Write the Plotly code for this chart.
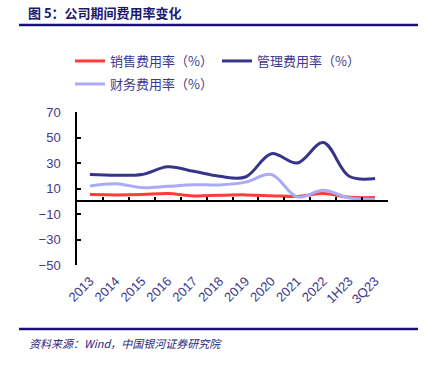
import plotly.graph_objects as go

categories = ["2013", "2014", "2015", "2016", "2017", "2018", "2019", "2020", "2021", "2022", "1H23", "3Q23"]
sales_rate = [5.2, 5.0, 5.2, 6.0, 4.2, 4.7, 5.0, 4.4, 3.7, 6.0, 3.1, 2.9]
admin_rate = [21.0, 20.4, 21.0, 27.0, 23.5, 19.6, 19.0, 37.3, 30.0, 46.0, 19.6, 17.8]
finance_rate = [12.0, 13.8, 10.7, 11.7, 13.0, 12.8, 15.0, 21.0, 3.4, 8.6, 2.6, 1.6]
y_ticks = [-50, -30, -10, 10, 30, 50, 70]

W, H = 425, 368
L, R, T, B = 77, 37, 112, 103
PW, PH = W - L - R, H - T - B

def px_x(x):
    return (x - L) / PW

def px_y(y):
    return (H - B - y) / PH

def cx(x):
    return x / W

def cy(y):
    return (H - y) / H

navy_text = "#3d3a8c"
fig = go.Figure()
series = [
    ("销售费用率（%）", sales_rate, "#ff3c3c", "legend"),
    ("管理费用率（%）", admin_rate, "#37348a", "legend"),
    ("财务费用率（%）", finance_rate, "#aaaaf6", "legend2"),
]
for name, vals, color, lg in series:
    fig.add_trace(go.Scatter(
        x=categories, y=vals, name=name, mode="lines",
        line=dict(color=color, width=3, shape="spline", smoothing=1.0),
        legend=lg,
    ))
# invisible trace to carry the zero-crossing axis
fig.add_trace(go.Scatter(x=categories, y=sales_rate, xaxis="x2", mode="lines",
                         line=dict(width=0), opacity=0, showlegend=False, hoverinfo="skip"))

fig.update_layout(
    width=W, height=H,
    margin=dict(l=L, r=R, t=T, b=B, autoexpand=False),
    paper_bgcolor="white", plot_bgcolor="white",
    font=dict(family="Noto Sans CJK SC, Liberation Sans, sans-serif", color=navy_text),
    xaxis=dict(
        type="category", categoryorder="array", categoryarray=categories,
        range=[-0.5, len(categories) - 0.5],
        showline=False, showgrid=False, zeroline=False, ticks="",
        tickangle=-45, ticklabelstandoff=5,
        tickfont=dict(family="Liberation Sans, Arial", size=13, color=navy_text),
    ),
    xaxis2=dict(
        type="category", categoryorder="array", categoryarray=categories,
        range=[-0.5, len(categories) - 0.5],
        overlaying="x", anchor="free", position=50 / 120,
        showline=True, linecolor="black", linewidth=1.5,
        ticks="inside", tickson="boundaries", ticklen=4, tickcolor="black", tickwidth=1.5,
        showticklabels=False, showgrid=False, zeroline=False,
    ),
    yaxis=dict(
        range=[-50, 70], tickvals=y_ticks,
        showline=True, linecolor="black", linewidth=1.5,
        ticks="inside", ticklen=4, tickcolor="black", tickwidth=1.5,
        showgrid=False, zeroline=False,
        ticklabelstandoff=12,
        tickfont=dict(family="Liberation Sans, Arial", size=13, color=navy_text),
    ),
    legend=dict(
        orientation="h", xref="container", yref="container",
        x=cx(70), y=cy(61), xanchor="left", yanchor="middle",
        font=dict(size=13, color=navy_text), entrywidth=102, entrywidthmode="pixels",
        bgcolor="rgba(0,0,0,0)",
    ),
    legend2=dict(
        orientation="h", xref="container", yref="container",
        x=cx(70), y=cy(84), xanchor="left", yanchor="middle",
        font=dict(size=13, color=navy_text), bgcolor="rgba(0,0,0,0)",
    ),
    showlegend=True,
)

fig.add_annotation(text="<b>图 5：公司期间费用率变化</b>", xref="paper", yref="paper",
                   x=px_x(26), y=px_y(12), xanchor="left", yanchor="middle", showarrow=False,
                   font=dict(size=13, color="#1c186e", family="Noto Sans CJK SC"))
fig.add_annotation(text="<i>资料来源：Wind，中国银河证券研究院</i>", xref="paper", yref="paper",
                   x=px_x(27), y=px_y(343), xanchor="left", yanchor="middle", showarrow=False,
                   font=dict(size=11, color="#2a2680", family="Noto Sans CJK SC"))
for yy in (25, 329):
    fig.add_shape(type="line", xref="paper", yref="paper",
                  x0=px_x(19), x1=px_x(418), y0=px_y(yy), y1=px_y(yy),
                  line=dict(color="#1a1478", width=2.5))

fig.write_html("out.html", config={"displayModeBar": False},
               post_script="document.body.style.margin='0px';")
